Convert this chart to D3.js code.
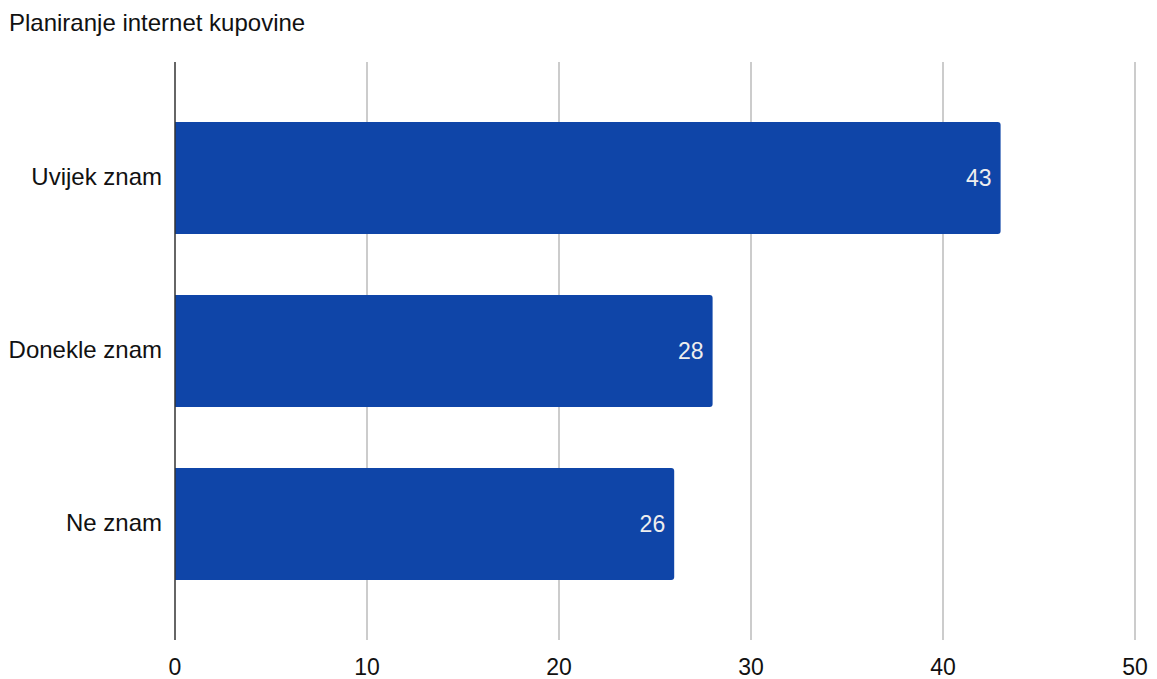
<!DOCTYPE html>
<html><head><meta charset="utf-8">
<script src="https://cdn.jsdelivr.net/npm/d3@7"></script>
<style>body{margin:0;background:#fff;}svg{display:block;font-family:"Liberation Sans",Arial,sans-serif;}</style>
</head><body>
<svg id="c" width="1157" height="679"></svg>
<script>
const categories = ["Uvijek znam", "Donekle znam", "Ne znam"];
const values = [43, 28, 26];
const xTicks = [0, 10, 20, 30, 40, 50];
const title = "Planiranje internet kupovine";

const svg = d3.select("#c");
const x = d3.scaleLinear().domain([0, 50]).range([175, 1135]);
const y = d3.scaleBand().domain(categories).range([91.5, 610.5]).paddingInner(0.353).paddingOuter(0.1765);
const gridTop = 62, gridBottom = 640;

svg.append("text").attr("x", 9).attr("y", 31).attr("font-size", 24).attr("fill", "#111").text(title);

svg.append("g").selectAll("line").data(xTicks.filter(d => d !== 0)).join("line")
  .attr("x1", d => x(d)).attr("x2", d => x(d)).attr("y1", gridTop).attr("y2", gridBottom)
  .attr("stroke", "#cccccc").attr("stroke-width", 2);

const r = 3;
svg.append("g").selectAll("path").data(values).join("path")
  .attr("fill", "#0f45a8")
  .attr("d", (d, i) => {
    const x0 = x(0), x1 = x(d), y0 = y(categories[i]), h = y.bandwidth();
    return `M${x0},${y0}H${x1 - r}Q${x1},${y0} ${x1},${y0 + r}V${y0 + h - r}Q${x1},${y0 + h} ${x1 - r},${y0 + h}H${x0}Z`;
  });

svg.append("g").selectAll("text").data(values).join("text")
  .attr("x", d => x(d) - 9).attr("y", (d, i) => y(categories[i]) + y.bandwidth() / 2)
  .attr("dy", "0.35em").attr("text-anchor", "end").attr("font-size", 23).attr("fill", "#eeeeee")
  .text(d => d);

svg.append("line").attr("x1", x(0)).attr("x2", x(0)).attr("y1", gridTop).attr("y2", gridBottom)
  .attr("stroke", "#333").attr("stroke-width", 1.5);

svg.append("g").selectAll("text").data(categories).join("text")
  .attr("x", 162).attr("y", d => y(d) + y.bandwidth() / 2).attr("dy", "0.3em")
  .attr("text-anchor", "end").attr("font-size", 24).attr("fill", "#111").text(d => d);

svg.append("g").selectAll("text").data(xTicks).join("text")
  .attr("x", d => x(d)).attr("y", 675).attr("text-anchor", "middle")
  .attr("font-size", 23).attr("fill", "#111").text(d => d);
</script>
</body></html>
